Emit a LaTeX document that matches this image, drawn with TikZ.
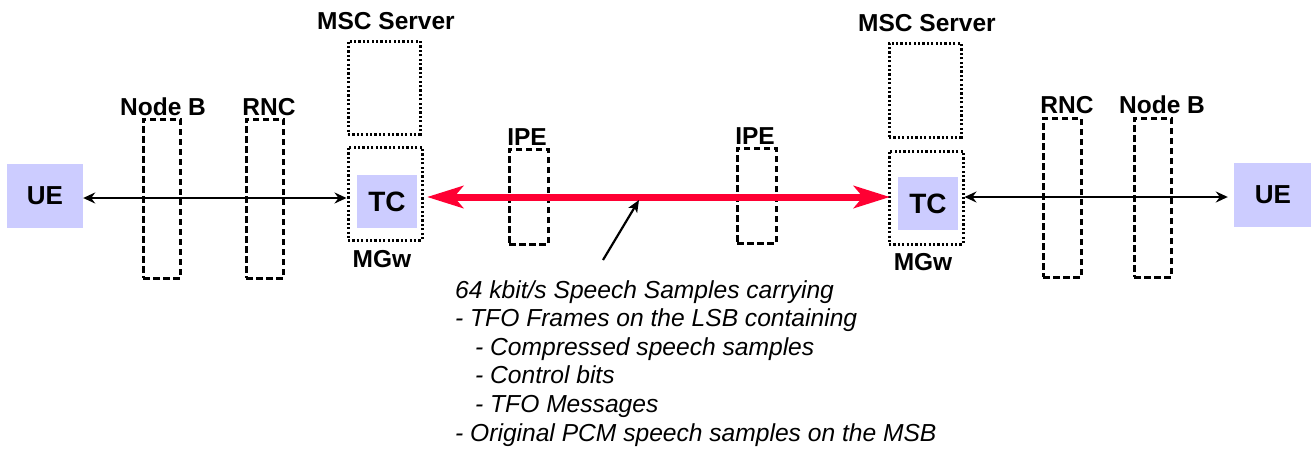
\documentclass[tikz,border=0pt]{standalone}
\usepackage{fontspec}
\setmainfont{Liberation Sans}
\usetikzlibrary{arrows.meta}
\definecolor{lav}{HTML}{CCCCFF}
\definecolor{tfored}{HTML}{FF0033}
\tikzset{
  dbox/.style={draw, line width=3pt, dash pattern=on 6.5pt off 3.5pt, inner sep=0pt},
  obox/.style={draw, line width=3pt, dash pattern=on 2.2pt off 2.2pt, inner sep=0pt},
  ent/.style={fill=lav, inner sep=0pt, font=\bfseries\fontsize{26}{30}\selectfont},
  lbl/.style={anchor=base, inner sep=0pt, font=\bfseries\fontsize{24.5}{28}\selectfont},
  link/.style={line width=2.2pt, {Stealth[length=12pt,width=11pt,inset=4pt]}-{Stealth[length=12pt,width=11pt,inset=4pt]}},
  tfo/.style={line width=7pt, tfored, {Stealth[length=36pt,width=22pt,inset=9pt]}-{Stealth[length=36pt,width=22pt,inset=9pt]}},
  ptr/.style={line width=2.2pt, -{Stealth[length=12pt,width=10pt,inset=3pt]}}
}
\begin{document}
\begin{tikzpicture}[x=1pt,y=-1pt]
\useasboundingbox (0,0) rectangle (1311,448);
% left side
\node[ent, minimum width=76pt, minimum height=64pt] (ueL) at (45,196) {UE};
\node[dbox, minimum width=37pt, minimum height=159pt] (nbL) at (161.5,198.5) {};
\node[dbox, minimum width=37pt, minimum height=159pt] (rncL) at (264.5,198.5) {};
\node[obox, minimum width=72pt, minimum height=93pt] (mscL) at (384,87.5) {};
\node[obox, minimum width=74pt, minimum height=93pt] (mgwL) at (385,193.5) {};
\node[ent, minimum width=60pt, minimum height=53pt, font=\bfseries\fontsize{28}{32}\selectfont] (tcL) at (387,201.5) {TC};
% middle
\node[dbox, minimum width=39pt, minimum height=95pt] (ipeL) at (528.5,196.5) {};
\node[dbox, minimum width=39pt, minimum height=95pt] (ipeR) at (756.5,195.5) {};
% right side
\node[obox, minimum width=72pt, minimum height=94pt] (mscR) at (925,90) {};
\node[obox, minimum width=74pt, minimum height=93pt] (mgwR) at (926,197.5) {};
\node[ent, minimum width=60pt, minimum height=53pt, font=\bfseries\fontsize{28}{32}\selectfont] (tcR) at (928,203.5) {TC};
\node[dbox, minimum width=38pt, minimum height=159pt] (rncR) at (1062,197.5) {};
\node[dbox, minimum width=37pt, minimum height=159pt] (nbR) at (1152.5,197.5) {};
\node[ent, minimum width=78pt, minimum height=64pt] (ueR) at (1273,195) {UE};
% labels
\node[lbl] (lnbL) at (163,115) {Node B};
\node[lbl] (lrncL) at (269,115) {RNC};
\node[lbl] (lmscL) at (386,29) {MSC Server};
\node[lbl] (lmgwL) at (382,267) {MGw};
\node[lbl] (lipeL) at (527,145) {IPE};
\node[lbl] (lipeR) at (755,144) {IPE};
\node[lbl] (lmscR) at (927,31) {MSC Server};
\node[lbl] (lmgwR) at (923,270) {MGw};
\node[lbl] (lrncR) at (1067,113) {RNC};
\node[lbl] (lnbR) at (1162,113) {Node B};
% connectors
\draw[link] (ueL.east |- 0,198) -- (mgwL.west |- 0,198);
\draw[link] (mgwR.east |- 0,197) -- ([xshift=-6pt]ueR.west |- 0,197);
\coordinate (tfoL) at (427,197);
\coordinate (tfoR) at (890,197);
\draw[tfo] (tfoL) -- (tfoR);
\coordinate (ptrTail) at (603,260);
\coordinate (ptrHead) at (639,200);
\draw[ptr] (ptrTail) -- (ptrHead);
% description
\node[anchor=north west, inner sep=0pt, align=left, font=\itshape\fontsize{24.6}{28.6}\selectfont] (desc) at (455,280)
{64 kbit/s Speech Samples carrying\\
- TFO Frames on the LSB containing\\
\hspace*{20pt}- Compressed speech samples\\
\hspace*{20pt}- Control bits\\
\hspace*{20pt}- TFO Messages\\
- Original PCM speech samples on the MSB};
\end{tikzpicture}
\end{document}
